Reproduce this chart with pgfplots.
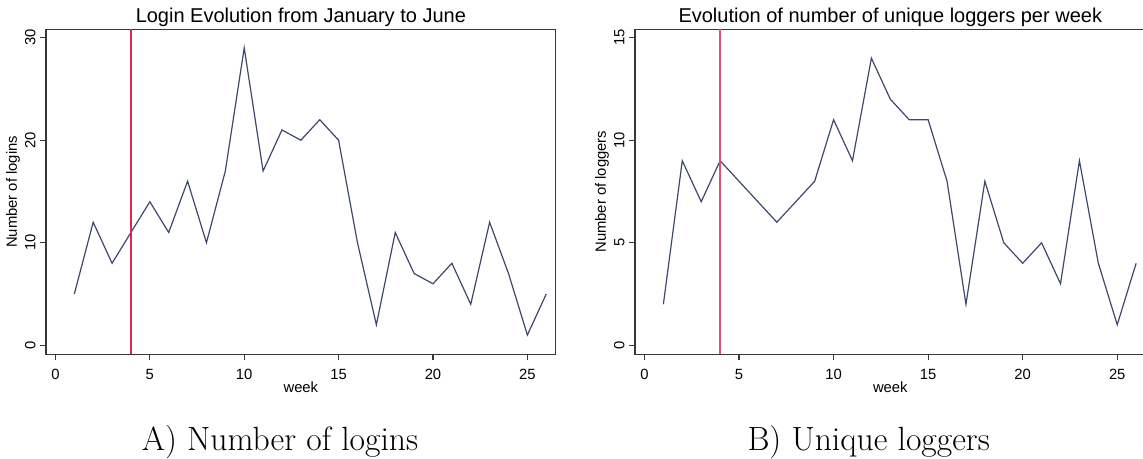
\documentclass[border=0pt]{standalone}
\usepackage{fontspec}
\usepackage{pgfplots}
\pgfplotsset{compat=1.18}
\newfontfamily\arial{Liberation Sans}
\definecolor{navyline}{RGB}{62,72,108}
\definecolor{redA}{RGB}{228,36,84}
\definecolor{redB}{RGB}{212,84,122}
\definecolor{frame}{RGB}{55,55,55}
\pgfplotsset{
  every axis title shift=0pt,
  myaxis/.style={
    scale only axis,
    anchor=south west,
    width=254.85pt, height=162.5pt,
    xmin=-0.5, xmax=26.5,
    axis line style={frame, line width=0.6pt},
    tick align=outside, xtick pos=left, ytick pos=left,
    major tick length=3pt,
    tick style={frame, line width=0.6pt},
    xtick={0,5,10,15,20,25},
    /pgf/number format/assume math mode=true,
    ticklabel style={font=\arial\fontsize{7.4}{8}\selectfont},
    xticklabel style={yshift=-1pt},
    yticklabel style={rotate=90, anchor=south, inner sep=2pt},
    label style={font=\arial\fontsize{7.4}{8}\selectfont},
    xlabel style={at={(axis description cs:0.5,-0.1006)}, anchor=center},
    ylabel style={at={(axis description cs:-0.0647,0.5)}, anchor=center, rotate=0},
    title style={font=\arial\fontsize{10}{12}\selectfont, at={(axis description cs:0.5,1)}, anchor=base, yshift=3.3pt},
    xlabel={week},
  }
}
\pgfplotstableread{
week logins
1 5
2 12
3 8
4 11
5 14
6 11
7 16
8 10
9 17
10 29
11 17
12 21
13 20
14 22
15 20
16 10
17 2
18 11
19 7
20 6
21 8
22 4
23 12
24 7
25 1
26 5
}\loginsdata
\pgfplotstableread{
week loggers
1 2
2 9
3 7
4 9
5 8
6 7
7 6
8 7
9 8
10 11
11 9
12 14
13 12
14 11
15 11
16 8
17 2
18 8
19 5
20 4
21 5
22 3
23 9
24 4
25 1
26 4
}\loggersdata
\begin{document}
\begin{tikzpicture}
\begin{axis}[myaxis, at={(23pt,52.35pt)},
  ymin=-0.88, ymax=30.82, ytick={0,10,20,30},
  ylabel={Number of logins},
  title={Login Evolution from January to June}]
\addplot[navyline, line width=0.6pt, mark=none] table[x=week, y=logins] {\loginsdata};
\addplot[redA, line width=0.6pt, mark=none] coordinates {(4,-0.88) (4,30.82)};
\end{axis}
\begin{axis}[myaxis, at={(317.5pt,52.35pt)}, width=255.3pt,
  ymin=-0.44, ymax=15.41, ytick={0,5,10,15},
  ylabel={Number of loggers},
  title={Evolution of number of unique loggers per week}]
\addplot[navyline, line width=0.6pt, mark=none] table[x=week, y=loggers] {\loggersdata};
\addplot[redB, line width=1pt, mark=none] coordinates {(4,-0.44) (4,15.41)};
\end{axis}
\node[anchor=base, font=\fontsize{16.8}{20}\selectfont] at (140pt,4.15pt) {A) Number of logins};
\node[anchor=base, font=\fontsize{16.8}{20}\selectfont] at (434.35pt,4.15pt) {B) Unique loggers};
\pgfresetboundingbox
\useasboundingbox (0,0) rectangle (571.5pt,229.5pt);
\end{tikzpicture}
\end{document}
